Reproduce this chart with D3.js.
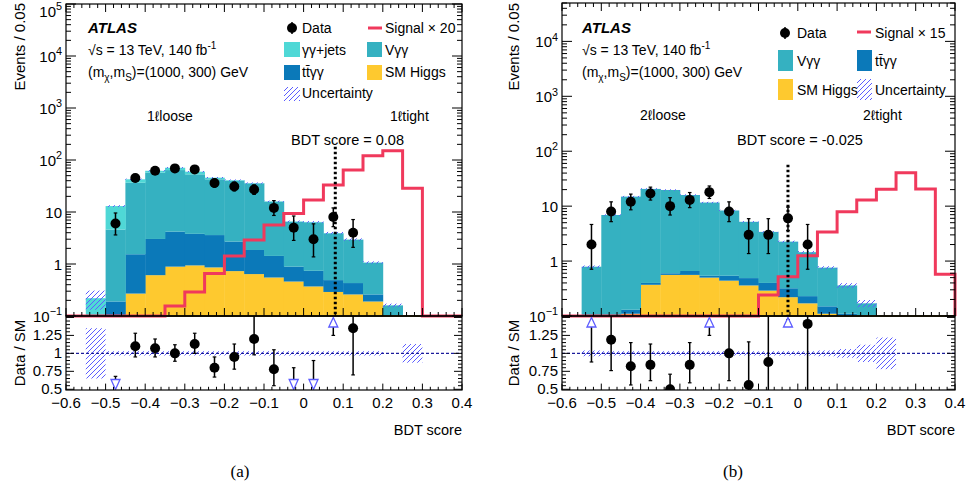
<!DOCTYPE html>
<html><head><meta charset="utf-8">
<script src="https://cdn.jsdelivr.net/npm/d3@7"></script>
<style>
body{margin:0;background:#fff;}
svg text{font-family:"Liberation Sans",Arial,Helvetica,sans-serif;fill:#000;}
</style></head><body>
<svg id="c" width="970" height="496"></svg>
<script>
// ---------------- DATA ----------------
const binLow = [-0.6,-0.55,-0.5,-0.45,-0.4,-0.35,-0.3,-0.25,-0.2,-0.15,-0.1,-0.05,0,0.05,0.1,0.15,0.2,0.25,0.3,0.35];
const binWidth = 0.05;
const xTickValues = [-0.6,-0.5,-0.4,-0.3,-0.2,-0.1,0,0.1,0.2,0.3,0.4];
const xTickLabels = ["\u22120.6","\u22120.5","\u22120.4","\u22120.3","\u22120.2","\u22120.1","0","0.1","0.2","0.3","0.4"];
const ratioTickValues = [0.5,0.75,1,1.25];
const ratioTickLabels = ["0.5","0.75","1","1.25"];

// (a) 1-lepton
const higgs1 = [0,0,0,0.27,0.61,0.89,0.94,0.86,0.73,0.64,0.55,0.46,0.37,0.29,0.26,0.19,0,0,0,0];
const ttyy1  = [0,0,0.19,1.27,2.42,3.31,2.86,2.74,1.97,1.22,0.88,0.43,0.37,0.20,0.17,0.07,0,0,0,0];
const vyy1   = [0,0,4.41,35.0,54.0,59.8,49.2,38.9,37.3,33.7,14.4,5.6,5.6,3.4,2.5,0.8,0.16,0,0,0];
const yyjets1= [0,0.22,8.4,6.0,5.0,7.0,6.6,3.2,1.0,0.4,0.2,0.1,0.1,0.05,0.03,0.01,0,0,0,0];
const signal1= [0,0,0,0,0,0.155,0.29,0.66,1.43,2.9,5.6,9.4,17,33,64,121,151,28.5,0,0];
const mcUnc1 = [0,0.40,0.04,0.03,0.03,0.03,0.03,0.03,0.03,0.03,0.03,0.04,0.04,0.05,0.05,0.05,0.08,0,0,0];
const dataX1 = [-0.475,-0.425,-0.375,-0.325,-0.275,-0.225,-0.175,-0.125,-0.075,-0.025,0.025,0.075,0.125];
const dataY1 = [6,45,62,69,66,36,31,27,12,5,3,8,4];
const dataUp1= [3.58,7.7,8.9,9.3,9.1,7.0,6.6,6.2,4.58,3.38,2.92,3.98,3.16];
const dataDn1= [2.38,6.7,7.9,8.3,8.1,6.0,5.5,5.2,3.42,2.16,1.63,2.78,1.91];
const ratioX1 = [-0.425,-0.375,-0.325,-0.275,-0.225,-0.175,-0.125,-0.075,0.125];
const ratioY1 = [1.10,1.07,1.00,1.13,0.80,0.95,1.20,0.78,1.35];
const ratioLo1= [0.95,0.95,0.89,1.00,0.67,0.78,0.98,0.55,0.70];
const ratioHi1= [1.28,1.20,1.12,1.28,0.95,1.13,1.60,1.05,1.60];
const arrowX1 = [-0.475,-0.025,0.025,0.075];
const arrowDir1=["down","down","down","up"];
const arrowErr1=[0.68,0.80,0.90,1.25];
const ratioUnc1=[0,0.35,0.03,0.03,0.03,0.03,0.03,0.03,0.03,0.03,0.03,0.03,0.03,0.03,0.03,0.03,0,0.13,0,0];

// (b) 2-lepton
const higgs2 = [0,0,0,0.11,0.37,0.56,0.56,0.50,0.44,0.36,0.29,0.22,0.17,0.11,0,0,0,0,0,0];
const ttyy2  = [0,0,0,0.02,0.03,0.04,0.10,0.04,0.10,0.13,0.11,0.10,0.06,0.04,0.11,0,0,0,0,0];
const vyy2   = [0,0.79,6.9,14.8,20.2,19.1,15.3,11.1,7.8,4.7,3.0,1.94,1.22,0.61,0.25,0.17,0,0,0,0];
const signal2= [0,0,0,0,0,0,0,0,0,0,0.24,0.52,1.25,3.4,7.9,13,20.3,40.7,20.6,0.575];
const mcUnc2 = [0,0.05,0.03,0.03,0.03,0.03,0.03,0.03,0.03,0.03,0.03,0.04,0.05,0.06,0.1,0.15,0,0,0,0];
const dataX2 = [-0.525,-0.475,-0.425,-0.375,-0.325,-0.275,-0.225,-0.175,-0.125,-0.075,-0.025,0.025];
const dataY2 = [2,8,12,17,10,13,18,8,3,3,6,2];
const dataUp2= [2.64,3.98,4.58,5.2,4.27,4.7,5.3,3.98,2.92,2.92,3.58,2.64];
const dataDn2= [1.29,2.78,3.42,4.1,3.11,3.6,4.2,2.78,1.63,1.63,2.38,1.29];
const ratioX2 = [-0.475,-0.425,-0.375,-0.325,-0.275,-0.175,-0.125,-0.075,0.025];
const ratioY2 = [1.19,0.82,0.84,0.50,0.84,1.00,0.56,0.88,1.41];
const ratioLo2= [0.76,0.56,0.62,0.40,0.59,0.62,0.40,0.40,0.40];
const ratioHi2= [1.60,1.15,1.13,0.71,1.15,1.60,1.16,1.60,1.60];
const arrowX2 = [-0.525,-0.225,-0.025];
const arrowDir2=["up","up","up"];
const arrowErr2=[0.88,1.25,1.47];
const ratioUnc2=[0,0.04,0.03,0.03,0.03,0.03,0.03,0.03,0.03,0.03,0.03,0.03,0.03,0.04,0.06,0.12,0.22,0,0,0];

// ---------------- STYLE ----------------
const C = {yyjets:"#4fd8d6", vyy:"#35b1c1", ttyy:"#0b79b9", higgs:"#fec92f", signal:"#f0395c", hatch:"#5c5cff", olive:"#7a6a1c"};

const svg = d3.select("#c");
const defs = svg.append("defs");
const pat = defs.append("pattern").attr("id","hatch").attr("patternUnits","userSpaceOnUse").attr("width",5).attr("height",5);
pat.append("path").attr("d","M-1,1 l2,-2 M0,5 l5,-5 M4,6 l2,-2").attr("stroke",C.hatch).attr("stroke-width",1);

function supText(sel, base, sup, x, y, anchor, size){
  const t = sel.append("text").attr("x",x).attr("y",y).attr("text-anchor",anchor).attr("font-size",size);
  t.append("tspan").text(base);
  if (sup) t.append("tspan").attr("dy",-size*0.42).attr("font-size",size*0.72).text(sup);
  return t;
}

function drawPanel(p){
  const g = svg.append("g");
  const x = d3.scaleLinear().domain([-0.6,0.4]).range([p.x0,p.x1]);
  const y = d3.scaleLog().domain(p.yDomain).range([p.yMid,p.yTop]);
  const yr = d3.scaleLinear().domain([0.49,1.52]).range([p.yBot,p.yMid]);
  const ymin = p.yDomain[0];
  defs.append("clipPath").attr("id","cm"+p.id).append("rect").attr("x",p.x0).attr("y",p.yTop).attr("width",p.x1-p.x0).attr("height",p.yMid-p.yTop);
  defs.append("clipPath").attr("id","cr"+p.id).append("rect").attr("x",p.x0).attr("y",p.yMid).attr("width",p.x1-p.x0).attr("height",p.yBot-p.yMid);
  const main = g.append("g").attr("clip-path",`url(#cm${p.id})`);

  // stacked histogram
  const rows = binLow.map((b,i)=>{const o={lo:b}; p.keys.forEach(k=>o[k]=p.series[k][i]); return o;});
  const layers = d3.stack().keys(p.keys)(rows);
  layers.forEach(layer=>{
    main.append("g").selectAll("rect").data(layer.filter(d=>d[1]>ymin && d[1]>d[0])).join("rect")
      .attr("x",d=>x(d.data.lo)).attr("width",d=>x(d.data.lo+binWidth)-x(d.data.lo)+0.4)
      .attr("y",d=>y(d[1])).attr("height",d=>y(Math.max(d[0],ymin))-y(d[1]))
      .attr("fill",p.colors[layer.key]);
  });
  const totals = binLow.map((b,i)=>d3.sum(p.keys,k=>p.series[k][i]));
  main.append("g").selectAll("rect").data(binLow.map((b,i)=>({lo:b,t:totals[i],u:p.mcUnc[i]})).filter(d=>d.t>0&&d.u>0)).join("rect")
    .attr("x",d=>x(d.lo)).attr("width",d=>x(d.lo+binWidth)-x(d.lo))
    .attr("y",d=>y(d.t*(1+d.u))).attr("height",d=>y(Math.max(d.t*(1-d.u),ymin))-y(d.t*(1+d.u)))
    .attr("fill","url(#hatch)");

  // bottom olive line + signal
  g.append("line").attr("x1",p.x0).attr("x2",p.x1).attr("y1",p.yMid).attr("y2",p.yMid).attr("stroke",C.olive).attr("stroke-width",2);
  const pts=[[x(-0.6),y(ymin)]];
  binLow.forEach((b,i)=>{const v=Math.max(p.signal[i],ymin); pts.push([x(b),y(v)],[x(b+binWidth),y(v)]);});
  pts.push([x(0.4),y(ymin)]);
  g.append("path").attr("d",d3.line()(pts)).attr("fill","none").attr("stroke",C.signal).attr("stroke-width",3).attr("stroke-linejoin","miter");

  // cut line
  g.append("line").attr("x1",x(p.cut)).attr("x2",x(p.cut)).attr("y1",y(p.cutTop)).attr("y2",p.yMid)
    .attr("stroke","#000").attr("stroke-width",3).attr("stroke-dasharray","2.5,2.5");

  // data
  const dg = g.append("g");
  p.dataX.forEach((xv,i)=>{
    const v=p.dataY[i], cx=x(xv);
    const y1=y(v+p.dataUp[i]), y2=y(Math.max(v-p.dataDn[i],ymin));
    dg.append("line").attr("x1",cx).attr("x2",cx).attr("y1",y1).attr("y2",y2).attr("stroke","#000").attr("stroke-width",1.5);
    [y1,y2].forEach(yy=>dg.append("line").attr("x1",cx-1.8).attr("x2",cx+1.8).attr("y1",yy).attr("y2",yy).attr("stroke","#000").attr("stroke-width",1.2));
    dg.append("circle").attr("cx",cx).attr("cy",y(v)).attr("r",5).attr("fill","#000");
  });

  // ratio panel
  const rg = g.append("g").attr("clip-path",`url(#cr${p.id})`);
  rg.append("g").selectAll("rect").data(binLow.map((b,i)=>({lo:b,u:p.ratioUnc[i]})).filter(d=>d.u>0)).join("rect")
    .attr("x",d=>x(d.lo)).attr("width",d=>x(d.lo+binWidth)-x(d.lo))
    .attr("y",d=>yr(1+d.u)).attr("height",d=>yr(1-d.u)-yr(1+d.u)).attr("fill","url(#hatch)");
  rg.append("line").attr("x1",p.x0).attr("x2",p.x1).attr("y1",yr(1)).attr("y2",yr(1))
    .attr("stroke","#1c1c9c").attr("stroke-width",1.2).attr("stroke-dasharray","3,2");
  p.ratioX.forEach((xv,i)=>{
    const cx=x(xv);
    rg.append("line").attr("x1",cx).attr("x2",cx).attr("y1",yr(p.ratioHi[i])).attr("y2",yr(p.ratioLo[i])).attr("stroke","#000").attr("stroke-width",1.5);
    [p.ratioHi[i],p.ratioLo[i]].forEach(vv=>rg.append("line").attr("x1",cx-1.8).attr("x2",cx+1.8).attr("y1",yr(vv)).attr("y2",yr(vv)).attr("stroke","#000").attr("stroke-width",1.2));
    rg.append("circle").attr("cx",cx).attr("cy",yr(p.ratioY[i])).attr("r",5).attr("fill","#000");
  });
  p.arrowX.forEach((xv,i)=>{
    const cx=x(xv);
    if(p.arrowDir[i]==="down"){
      const top=p.yBot-10.5, tip=p.yBot-0.5;
      rg.append("line").attr("x1",cx).attr("x2",cx).attr("y1",yr(p.arrowErr[i])).attr("y2",top).attr("stroke","#000").attr("stroke-width",1.5);
      rg.append("line").attr("x1",cx-1.8).attr("x2",cx+1.8).attr("y1",yr(p.arrowErr[i])).attr("y2",yr(p.arrowErr[i])).attr("stroke","#000").attr("stroke-width",1.2);
      rg.append("path").attr("d",`M${cx-4.5},${top}L${cx+4.5},${top}L${cx},${tip}Z`).attr("fill","#fff").attr("stroke",C.hatch).attr("stroke-width",1.3);
    } else {
      const base=p.yMid+11, tip=p.yMid+1.5;
      rg.append("line").attr("x1",cx).attr("x2",cx).attr("y1",yr(p.arrowErr[i])).attr("y2",base).attr("stroke","#000").attr("stroke-width",1.5);
      rg.append("line").attr("x1",cx-1.8).attr("x2",cx+1.8).attr("y1",yr(p.arrowErr[i])).attr("y2",yr(p.arrowErr[i])).attr("stroke","#000").attr("stroke-width",1.2);
      rg.append("path").attr("d",`M${cx-4.5},${base}L${cx+4.5},${base}L${cx},${tip}Z`).attr("fill","#fff").attr("stroke",C.hatch).attr("stroke-width",1.3);
    }
  });

  // frames
  g.append("rect").attr("x",p.x0).attr("y",p.yTop).attr("width",p.x1-p.x0).attr("height",p.yMid-p.yTop).attr("fill","none").attr("stroke","#000").attr("stroke-width",1.2);
  g.append("rect").attr("x",p.x0).attr("y",p.yMid).attr("width",p.x1-p.x0).attr("height",p.yBot-p.yMid).attr("fill","none").attr("stroke","#000").attr("stroke-width",1.2);

  // ticks
  const tk = g.append("g").attr("stroke","#000").attr("stroke-width",1);
  for(let i=0;i<=50;i++){
    const xv=-0.6+i*0.02, xx=x(xv), L=(i%5===0)?8:4;
    tk.append("line").attr("x1",xx).attr("x2",xx).attr("y1",p.yMid).attr("y2",p.yMid-L);
    tk.append("line").attr("x1",xx).attr("x2",xx).attr("y1",p.yTop).attr("y2",p.yTop+L);
    tk.append("line").attr("x1",xx).attr("x2",xx).attr("y1",p.yBot).attr("y2",p.yBot-L*0.8);
  }
  for(let e=-1;e<=5;e++){
    for(let m=1;m<=9;m++){
      const v=m*Math.pow(10,e);
      if(v<p.yDomain[0]-1e-9||v>p.yDomain[1]+1e-6) continue;
      const yy=y(v), L=(m===1)?10:5;
      tk.append("line").attr("x1",p.x0).attr("x2",p.x0+L).attr("y1",yy).attr("y2",yy);
      tk.append("line").attr("x1",p.x1).attr("x2",p.x1-L).attr("y1",yy).attr("y2",yy);
    }
  }
  for(let i=0;i<=20;i++){
    const v=0.5+i*0.05; if(v>1.52) continue;
    const yy=yr(v), L=(i%5===0)?8:4;
    tk.append("line").attr("x1",p.x0).attr("x2",p.x0+L).attr("y1",yy).attr("y2",yy);
    tk.append("line").attr("x1",p.x1).attr("x2",p.x1-L).attr("y1",yy).attr("y2",yy);
  }

  // tick labels
  const lab = g.append("g");
  xTickValues.forEach((v,i)=>lab.append("text").attr("x",x(v)).attr("y",408).attr("text-anchor","middle").attr("font-size",15).text(xTickLabels[i]));
  for(let e=-1;e<=5;e++){
    const v=Math.pow(10,e); if(v>p.yDomain[1]*1.0001) continue;
    const yy=Math.max(y(v)+5.5,16.5);
    if(e===0) supText(lab,"1",null,p.x0-4,yy,"end",15);
    else if(e===1) supText(lab,"10",null,p.x0-4,yy,"end",15);
    else supText(lab,"10",e===-1?"\u22121":String(e),p.x0-4,yy,"end",15);
  }
  ratioTickValues.forEach((v,i)=>lab.append("text").attr("x",p.x0-4).attr("y",yr(v)+4.5).attr("text-anchor","end").attr("font-size",15).text(ratioTickLabels[i]));

  // axis titles
  lab.append("text").attr("transform",`translate(${p.yLabX},3) rotate(-90)`).attr("text-anchor","end").attr("font-size",15).text("Events / 0.05");
  lab.append("text").attr("transform",`translate(${p.yLabX},353) rotate(-90)`).attr("text-anchor","middle").attr("font-size",15).text("Data / SM");
  lab.append("text").attr("x",p.x1).attr("y",435).attr("text-anchor","end").attr("font-size",14.5).text("BDT score");
  return {x,y};
}

function atlasLabel(x0){
  const t=svg.append("g");
  t.append("text").attr("x",x0).attr("y",33).attr("font-size",15).attr("font-weight","bold").attr("font-style","italic").text("ATLAS");
  const s=t.append("text").attr("x",x0).attr("y",55).attr("font-size",14);
  s.append("tspan").text("\u221As = 13 TeV, 140 fb");
  s.append("tspan").attr("dy",-6).attr("font-size",10).text("-1");
  const m=t.append("text").attr("x",x0).attr("y",77).attr("font-size",14);
  m.append("tspan").text("(m");
  m.append("tspan").attr("dy",4).attr("font-size",10).text("\u03C7");
  m.append("tspan").attr("dy",-4).text(",m");
  m.append("tspan").attr("dy",4).attr("font-size",10).text("S");
  m.append("tspan").attr("dy",-4).text(")=(1000, 300) GeV");
}
function txt(x,y,s,size,anchor){svg.append("text").attr("x",x).attr("y",y).attr("font-size",size||14).attr("text-anchor",anchor||"start").text(s);}
function legDot(cx,cy){svg.append("line").attr("x1",cx).attr("x2",cx).attr("y1",cy-6).attr("y2",cy+6).attr("stroke","#000").attr("stroke-width",1.5);svg.append("circle").attr("cx",cx).attr("cy",cy).attr("r",5);}
function legLine(x1,x2,yy){svg.append("line").attr("x1",x1).attr("x2",x2).attr("y1",yy).attr("y2",yy).attr("stroke",C.signal).attr("stroke-width",3);}
function legBox(x,y,w,h,fill){svg.append("rect").attr("x",x).attr("y",y).attr("width",w).attr("height",h).attr("fill",fill);}

// ---------------- PANEL (a) ----------------
drawPanel({id:"a", x0:66, x1:462, yTop:4, yMid:316, yBot:390, yDomain:[0.1,1e5], yLabX:25,
  keys:["higgs","ttyy","vyy","yyjets"], series:{higgs:higgs1,ttyy:ttyy1,vyy:vyy1,yyjets:yyjets1},
  colors:{higgs:C.higgs,ttyy:C.ttyy,vyy:C.vyy,yyjets:C.yyjets},
  signal:signal1, mcUnc:mcUnc1, cut:0.08, cutTop:180,
  dataX:dataX1,dataY:dataY1,dataUp:dataUp1,dataDn:dataDn1,
  ratioX:ratioX1,ratioY:ratioY1,ratioLo:ratioLo1,ratioHi:ratioHi1,
  arrowX:arrowX1,arrowDir:arrowDir1,arrowErr:arrowErr1,ratioUnc:ratioUnc1});
atlasLabel(88);
legDot(292,28); txt(302,33,"Data",14);
legLine(368,382,28); txt(385,33,"Signal \u00D7 20",14);
legBox(284,42,16,15,C.yyjets); txt(302,55,"\u03B3\u03B3+jets",14);
legBox(367,42,15,15,C.vyy); txt(385,55,"V\u03B3\u03B3",14);
legBox(284,65,16,15,C.ttyy); txt(302,77,"t\u0074\u0304\u03B3\u03B3",14);
legBox(367,65,15,15,C.higgs); txt(385,77,"SM Higgs",14);
legBox(284,87,16,14,"url(#hatch)"); txt(302,98,"Uncertainty",14);
txt(147,121,"1\u2113loose",14); txt(390,121,"1\u2113tight",14);
txt(291,145,"BDT score = 0.08",14.5);

// ---------------- PANEL (b) ----------------
drawPanel({id:"b", x0:562, x1:955, yTop:3, yMid:316, yBot:390, yDomain:[0.1,5e4], yLabX:519,
  keys:["higgs","ttyy","vyy"], series:{higgs:higgs2,ttyy:ttyy2,vyy:vyy2},
  colors:{higgs:C.higgs,ttyy:C.ttyy,vyy:C.vyy},
  signal:signal2, mcUnc:mcUnc2, cut:-0.025, cutTop:57,
  dataX:dataX2,dataY:dataY2,dataUp:dataUp2,dataDn:dataDn2,
  ratioX:ratioX2,ratioY:ratioY2,ratioLo:ratioLo2,ratioHi:ratioHi2,
  arrowX:arrowX2,arrowDir:arrowDir2,arrowErr:arrowErr2,ratioUnc:ratioUnc2});
atlasLabel(582);
legDot(785,33); txt(797,38,"Data",14);
legLine(857,871,32); txt(875,38,"Signal \u00D7 15",14);
legBox(778,50,15,21,C.vyy); txt(797,66,"V\u03B3\u03B3",14);
legBox(857,50,15,21,C.ttyy); txt(875,66,"t\u0074\u0304\u03B3\u03B3",14);
legBox(778,79,15,21,C.higgs); txt(797,95,"SM Higgs",14);
legBox(857,79,15,21,"url(#hatch)"); txt(875,95,"Uncertainty",14);
txt(640,120,"2\u2113loose",14); txt(863,120,"2\u2113tight",14);
txt(737,145,"BDT score = -0.025",14.5);

// captions
svg.append("text").attr("x",240).attr("y",477).attr("text-anchor","middle").attr("font-size",17).style("font-family","'Liberation Serif','Times New Roman',serif").text("(a)");
svg.append("text").attr("x",733).attr("y",477).attr("text-anchor","middle").attr("font-size",17).style("font-family","'Liberation Serif','Times New Roman',serif").text("(b)");
</script>
</body></html>
